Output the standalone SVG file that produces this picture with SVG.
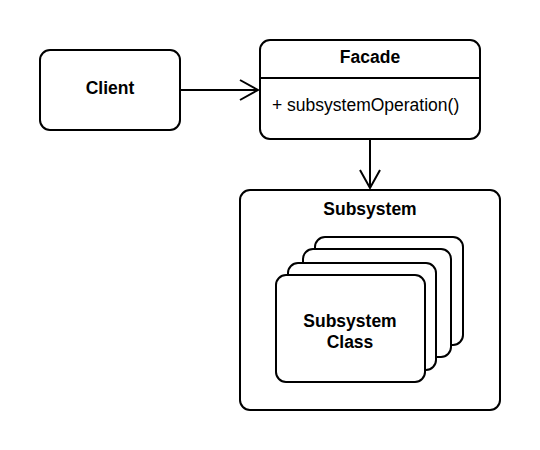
<svg xmlns="http://www.w3.org/2000/svg" width="540" height="450" viewBox="0 0 540 450">
<style>
.box{fill:#fff;stroke:#000;stroke-width:2}
.ln{fill:none;stroke:#000;stroke-width:2}
.b{font-family:"Liberation Sans",Arial,sans-serif;font-weight:bold;font-size:17.5px;text-anchor:middle;fill:#000}
.r{font-family:"Liberation Sans",Arial,sans-serif;font-size:17.5px;fill:#000}
</style>
<rect width="540" height="450" fill="#fff"/>
<g id="client">
<rect class="box" x="40" y="50" width="140" height="80" rx="10"/>
<text class="b" x="110" y="94">Client</text>
</g>
<g id="facade">
<rect class="box" x="260" y="40" width="220" height="99" rx="10"/>
<line class="ln" x1="260" y1="78" x2="480" y2="78"/>
<text class="b" x="370" y="63">Facade</text>
<text class="r" x="272" y="111">+ subsystemOperation()</text>
</g>
<g id="subsystem">
<rect class="box" x="240" y="190" width="260" height="220" rx="10"/>
<text class="b" x="370" y="215">Subsystem</text>
<rect class="box" x="315" y="237" width="148" height="108" rx="10"/>
<rect class="box" x="303" y="249" width="148" height="108" rx="10"/>
<rect class="box" x="288" y="263" width="148" height="107" rx="10"/>
</g>
<g id="subsystem-class">
<rect class="box" x="276" y="275" width="149" height="107" rx="10"/>
<text class="b" x="350" y="327">Subsystem</text>
<text class="b" x="350" y="348">Class</text>
</g>
<g id="connectors">
<line class="ln" x1="180" y1="90" x2="258" y2="90"/>
<polyline class="ln" points="240,80 258,90 240,100"/>
<line class="ln" x1="370" y1="140" x2="370" y2="188"/>
<polyline class="ln" points="360,170 370,188 380,170"/>
</g>
</svg>
